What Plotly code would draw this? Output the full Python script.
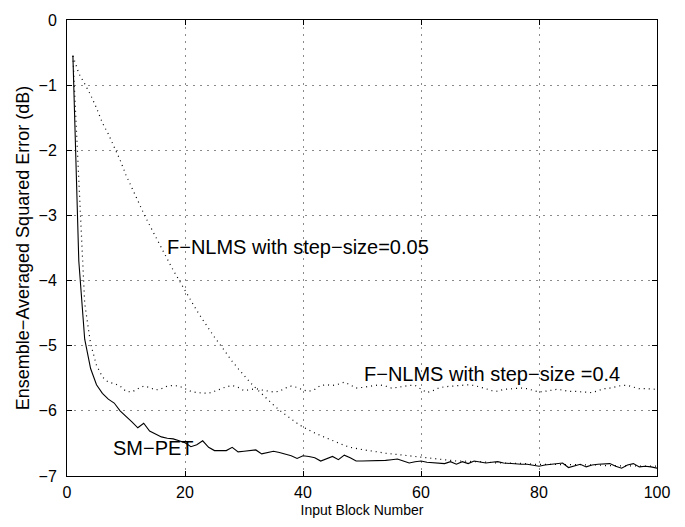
import plotly.graph_objects as go

block = list(range(1, 101))

sm_pet = [-0.55, -3.70, -4.90, -5.35, -5.60, -5.73, -5.82, -5.88, -6.00, -6.08,
          -6.17, -6.26, -6.19, -6.31, -6.35, -6.40, -6.42, -6.43, -6.46, -6.49,
          -6.55, -6.52, -6.46, -6.56, -6.61, -6.61, -6.61, -6.56, -6.63, -6.62,
          -6.61, -6.60, -6.66, -6.64, -6.62, -6.64, -6.66, -6.69, -6.73, -6.69,
          -6.70, -6.72, -6.77, -6.74, -6.70, -6.75, -6.68, -6.72, -6.77, -6.77,
          -6.77, -6.77, -6.77, -6.76, -6.75, -6.74, -6.77, -6.80, -6.78, -6.77,
          -6.79, -6.80, -6.80, -6.81, -6.78, -6.82, -6.78, -6.81, -6.77, -6.79,
          -6.80, -6.79, -6.78, -6.80, -6.81, -6.81, -6.82, -6.82, -6.84, -6.85,
          -6.83, -6.82, -6.81, -6.80, -6.87, -6.84, -6.82, -6.86, -6.83, -6.82,
          -6.82, -6.81, -6.85, -6.88, -6.83, -6.81, -6.86, -6.85, -6.86, -6.88]

nlms_005 = [-0.55, -0.82, -0.98, -1.15, -1.35, -1.58, -1.75, -1.95, -2.15, -2.38,
            -2.58, -2.78, -2.97, -3.15, -3.33, -3.50, -3.67, -3.84, -4.00, -4.16,
            -4.32, -4.46, -4.60, -4.74, -4.87, -4.99, -5.12, -5.24, -5.35, -5.46,
            -5.56, -5.65, -5.74, -5.83, -5.91, -5.99, -6.06, -6.13, -6.19, -6.25,
            -6.30, -6.34, -6.38, -6.42, -6.46, -6.50, -6.53, -6.56, -6.58, -6.60,
            -6.61, -6.62, -6.64, -6.65, -6.66, -6.67, -6.68, -6.69, -6.70, -6.72,
            -6.73, -6.74, -6.75, -6.76, -6.76, -6.77, -6.77, -6.78, -6.78, -6.78,
            -6.79, -6.79, -6.80, -6.80, -6.80, -6.81, -6.81, -6.81, -6.82, -6.82,
            -6.82, -6.82, -6.82, -6.83, -6.83, -6.83, -6.83, -6.83, -6.83, -6.83,
            -6.84, -6.84, -6.84, -6.84, -6.84, -6.84, -6.85, -6.85, -6.85, -6.85]

nlms_04 = [-0.55, -2.50, -4.35, -4.97, -5.30, -5.48, -5.56, -5.58, -5.62, -5.70,
           -5.71, -5.66, -5.62, -5.64, -5.68, -5.66, -5.62, -5.61, -5.62, -5.66,
           -5.70, -5.72, -5.72, -5.73, -5.70, -5.66, -5.63, -5.61, -5.64, -5.69,
           -5.68, -5.66, -5.68, -5.70, -5.71, -5.70, -5.65, -5.62, -5.64, -5.68,
           -5.70, -5.67, -5.61, -5.60, -5.61, -5.59, -5.56, -5.60, -5.65, -5.64,
           -5.63, -5.61, -5.60, -5.62, -5.65, -5.64, -5.62, -5.61, -5.61, -5.66,
           -5.72, -5.69, -5.65, -5.63, -5.62, -5.61, -5.60, -5.60, -5.61, -5.63,
           -5.66, -5.69, -5.70, -5.67, -5.66, -5.65, -5.65, -5.66, -5.68, -5.71,
           -5.70, -5.68, -5.67, -5.68, -5.70, -5.70, -5.71, -5.72, -5.72, -5.69,
           -5.66, -5.65, -5.63, -5.61, -5.61, -5.64, -5.66, -5.66, -5.67, -5.67]

x_ticks = [0, 20, 40, 60, 80, 100]
y_ticks = [0, -1, -2, -3, -4, -5, -6, -7]

labels = ["F\u2212NLMS with step\u2212size=0.05", "F\u2212NLMS with step\u2212size =0.4", "SM\u2212PET"]
label_x = [39.2, 72.0, 14.7]
label_y = [-3.48, -5.44, -6.57]

FONT = "Liberation Sans, Arial, Helvetica, sans-serif"

fig = go.Figure()
fig.add_trace(go.Scatter(x=block, y=nlms_005, mode="lines",
                         line=dict(color="black", width=1.2, dash="1px,4px"), showlegend=False))
fig.add_trace(go.Scatter(x=block, y=nlms_04, mode="lines",
                         line=dict(color="black", width=1.2, dash="1px,4px"), showlegend=False))
fig.add_trace(go.Scatter(x=block, y=sm_pet, mode="lines",
                         line=dict(color="black", width=1.1), showlegend=False))

for t, ax_, ay_ in zip(labels, label_x, label_y):
    fig.add_annotation(x=ax_, y=ay_, xref="x", yref="y", text=t, showarrow=False,
                       font=dict(family=FONT, size=20, color="black"))

axis_common = dict(
    showline=True, linecolor="black", linewidth=1, mirror="ticks",
    ticks="inside", ticklen=5, tickcolor="black",
    showgrid=True, gridcolor="#8a8a8a", griddash="2px,5px", gridwidth=1,
    zeroline=False, tickfont=dict(family=FONT, size=16, color="black"),
)

fig.update_xaxes(range=[0, 100], tickvals=x_ticks, ticktext=[str(v) for v in x_ticks],
                 title=dict(text="Input Block Number", font=dict(family=FONT, size=14, color="black"), standoff=4),
                 ticklabelstandoff=2, **axis_common)
fig.update_yaxes(range=[-7, 0], tickvals=y_ticks, ticktext=[("\u2212" + str(-v)) if v < 0 else str(v) for v in y_ticks],
                 title=dict(text="Ensemble\u2212Averaged Squared Error (dB)", font=dict(family=FONT, size=18, color="black"), standoff=4),
                 ticklabelstandoff=6, **axis_common)

fig.update_layout(width=685, height=527, margin=dict(l=67, r=28, t=15, b=45),
                  plot_bgcolor="white", paper_bgcolor="white")

fig.write_html("out.html")
